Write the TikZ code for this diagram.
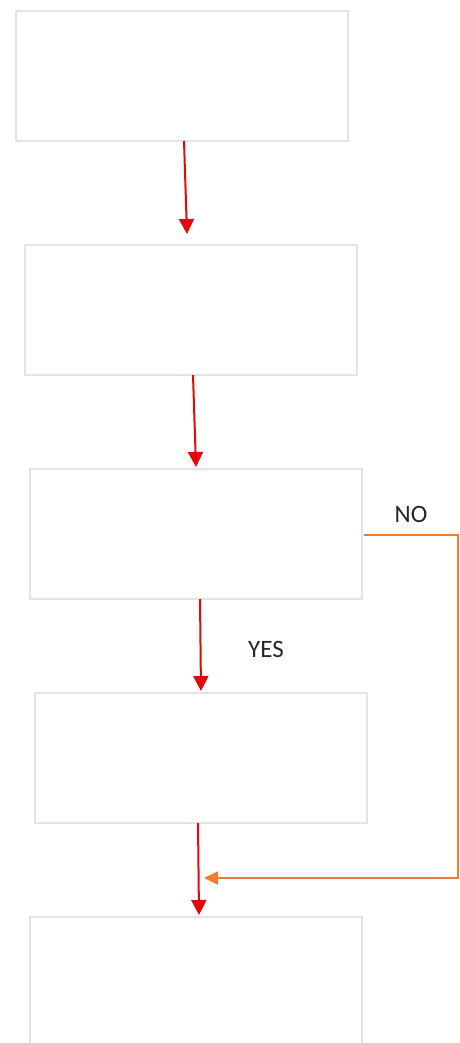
\documentclass[tikz,border=0pt]{standalone}
\usepackage{fontspec}
\setmainfont{Carlito}
\usetikzlibrary{arrows.meta}
\definecolor{boxgrey}{RGB}{228,228,228}
\definecolor{arrred}{RGB}{226,8,12}
\definecolor{arrorange}{RGB}{237,125,49}
\begin{document}
\begin{tikzpicture}[x=1pt,y=-1pt,
  box/.style={draw=boxgrey,line width=1.6pt,fill=white,minimum width=332pt,minimum height=130pt,anchor=north west,inner sep=0pt},
  redarrow/.style={draw=arrred,line width=2pt,-{Triangle[length=15pt,width=15pt]}},
  orarrow/.style={draw=arrorange,line width=1.8pt,-{Triangle[length=14pt,width=13pt]}},
  lbl/.style={font=\fontsize{25}{30}\selectfont,text=black!85,anchor=base,inner sep=0pt}]
\useasboundingbox (0,0) rectangle (459,1043);
\fill[white] (0,0) rectangle (459,1043);
\node[box] (b1) at (15,10) {};
\node[box] (b2) at (24,244) {};
\node[box] (b3) at (29,468) {};
\node[box] (b4) at (34,692) {};
\node[box,minimum height=140pt] (b5) at (29,916) {};
\coordinate (a1s) at (184,141);
\coordinate (a1e) at (187,234);
\coordinate (a2s) at (193,375);
\coordinate (a2e) at (196,467);
\coordinate (a3s) at (200,599);
\coordinate (a3e) at (201,691);
\coordinate (a4s) at (198,823);
\coordinate (a4e) at (199,915);
\draw[redarrow] (a1s) -- (a1e);
\draw[redarrow] (a2s) -- (a2e);
\draw[redarrow] (a3s) -- (a3e);
\draw[redarrow] (a4s) -- (a4e);
\coordinate (o1) at (364,535);
\coordinate (o2) at (458,535);
\coordinate (o3) at (458,878);
\coordinate (o4) at (204,878);
\draw[orarrow] (o1) -- (o2) -- (o3) -- (o4);
\node[lbl] (no) at (411,522) {NO};
\node[lbl] (yes) at (266,657) {YES};
\end{tikzpicture}
\end{document}
